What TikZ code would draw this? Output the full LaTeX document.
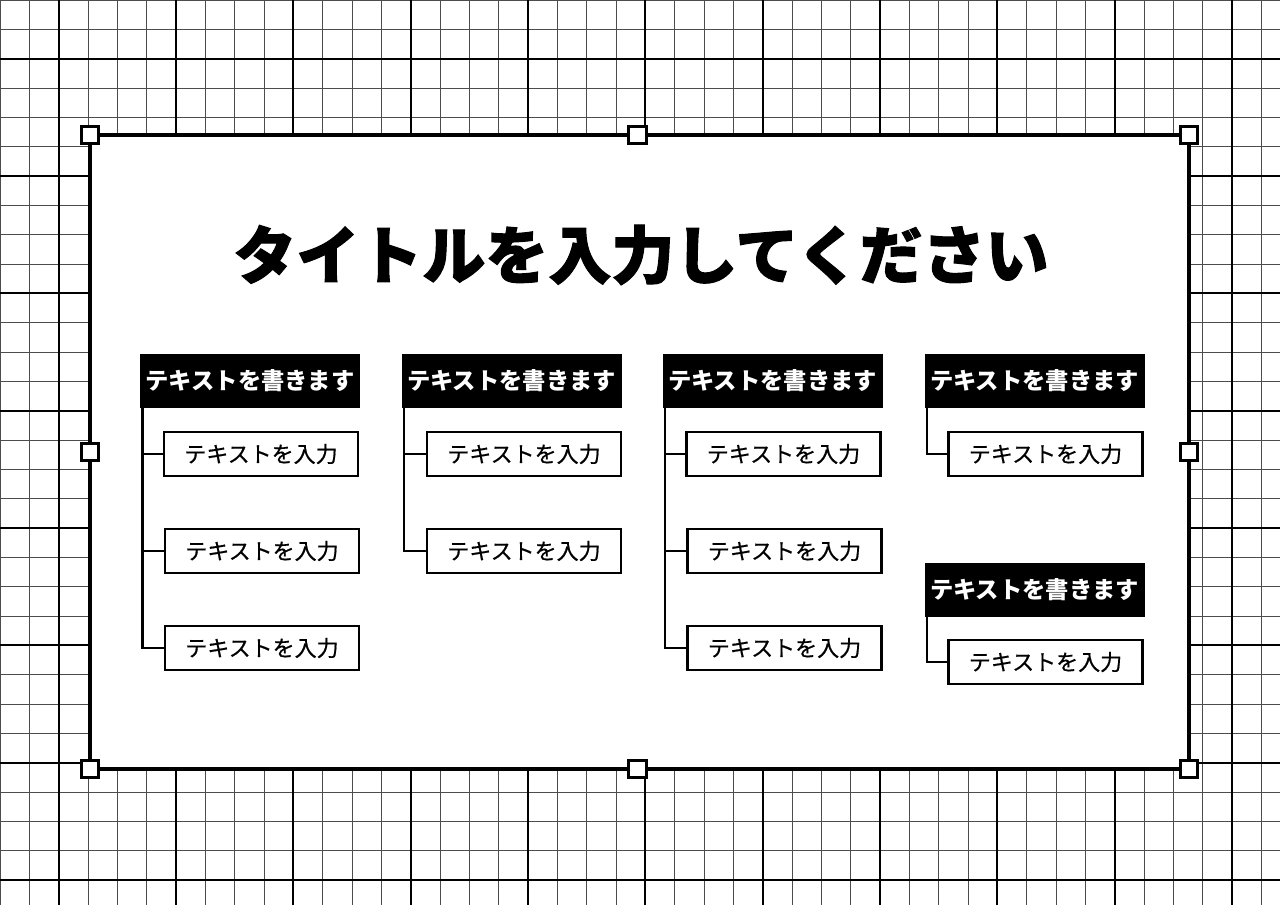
\documentclass[tikz,border=0pt]{standalone}
\usepackage{fontspec}
\setmainfont{Noto Sans CJK JP}
\newfontfamily\jp{Noto Sans CJK JP}
\begin{document}
\begin{tikzpicture}[x=1pt,y=-1pt,
  minorline/.style={draw=black!70,line width=1pt},
  majorline/.style={draw=black,line width=2pt},
  frameline/.style={draw=black,line width=3.8pt,fill=white},
  handle/.style={draw=black,line width=3pt,fill=white,minimum size=17.5pt,inner sep=0pt},
  header/.style={fill=black,text=white,minimum width=220pt,minimum height=54pt,inner sep=0pt,font=\jp\bfseries\fontsize{23.3}{25}\selectfont},
  child/.style={draw=black,line width=2.4pt,fill=white,minimum width=194pt,minimum height=44pt,inner sep=0pt,font=\jp\fontsize{22}{24}\selectfont\addfontfeature{FakeBold=0.6}},
  conn/.style={draw=black,line width=2.4pt}]
\useasboundingbox (0,0) rectangle (1280,905);
\fill[white] (0,0) rectangle (1280,905);
% grid
\foreach \i in {0,...,44} \draw[minorline] ({\i*29.3333},0) -- ({\i*29.3333},905);
\foreach \j in {0,...,31} \draw[minorline] (0,{\j*29.3333}) -- (1280,{\j*29.3333});
\foreach \i in {0,...,10} \draw[majorline] ({58.667+\i*117.333},0) -- ({58.667+\i*117.333},905);
\foreach \j in {0,...,7} \draw[majorline] (0,{58.667+\j*117.333}) -- (1280,{58.667+\j*117.333});
% frame
\draw[frameline] (90,135) rectangle (1189,769);
\foreach \p in {(90,135),(637.5,135),(1189,135),(90,452),(1189,452),(90,769),(637.5,769),(1189,769)}
  \node[handle] at \p {};
% title
\node[font=\jp\bfseries\fontsize{63}{70}\selectfont\addfontfeature{FakeBold=1.6}] (title) at (641,255) {タイトルを入力してください};
% headers
\node[header] (h1) at (250,381) {テキストを書きます};
\node[header] (h2) at (511.5,381) {テキストを書きます};
\node[header] (h3) at (772.5,381) {テキストを書きます};
\node[header] (h4) at (1034.5,381) {テキストを書きます};
\node[header] (h5) at (1034.5,590) {テキストを書きます};
% children
\node[child] (c11) at (261,454) {テキストを入力};
\node[child] (c12) at (262,551) {テキストを入力};
\node[child] (c13) at (262,648) {テキストを入力};
\node[child] (c21) at (524,454) {テキストを入力};
\node[child] (c22) at (524,551) {テキストを入力};
\node[child] (c31) at (783.5,454) {テキストを入力};
\node[child] (c32) at (784.5,551) {テキストを入力};
\node[child] (c33) at (784.5,648) {テキストを入力};
\node[child] (c41) at (1045.5,454) {テキストを入力};
\node[child] (c51) at (1045.5,662) {テキストを入力};
% connectors
\coordinate (v1) at ([xshift=2.5]h1.south west);
\coordinate (v2) at ([xshift=2.5]h2.south west);
\coordinate (v3) at ([xshift=2.5]h3.south west);
\coordinate (v4) at ([xshift=2.5]h4.south west);
\coordinate (v5) at ([xshift=2.5]h5.south west);
\draw[conn] (v1) |- (c13.west);
\draw[conn] (c11.west) -- (c11.west -| v1);
\draw[conn] (c12.west) -- (c12.west -| v1);
\draw[conn] (v2) |- (c22.west);
\draw[conn] (c21.west) -- (c21.west -| v2);
\draw[conn] (v3) |- (c33.west);
\draw[conn] (c31.west) -- (c31.west -| v3);
\draw[conn] (c32.west) -- (c32.west -| v3);
\draw[conn] (v4) |- (c41.west);
\draw[conn] (v5) |- (c51.west);
\end{tikzpicture}
\end{document}
